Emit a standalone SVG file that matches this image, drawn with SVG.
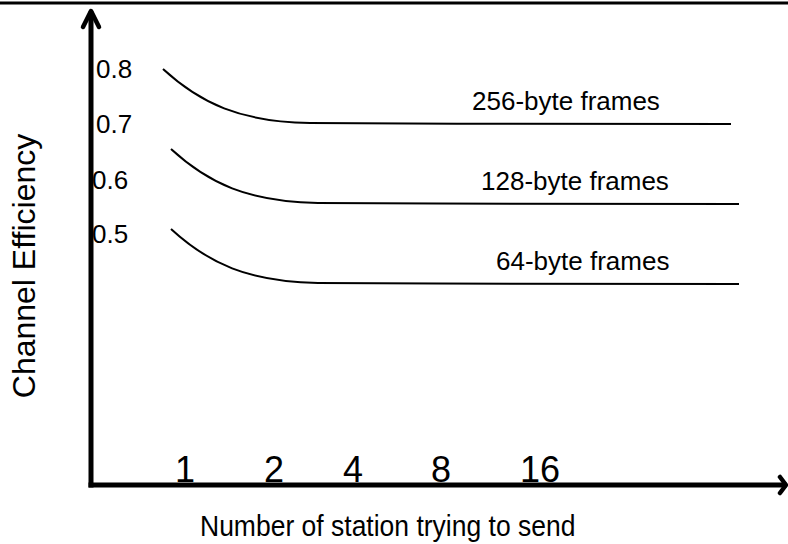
<svg xmlns="http://www.w3.org/2000/svg" width="788" height="544" viewBox="0 0 788 544">
<style>
text{font-family:"Liberation Sans",Arial,sans-serif;fill:#000}
.axis{stroke:#000;stroke-width:5;fill:none;stroke-linecap:square}
.head{stroke:#000;stroke-width:4.5;fill:none;stroke-linecap:round;stroke-linejoin:round}
.curve{stroke:#000;stroke-width:2;fill:none}
.lbl{font-size:26px}
.tick{font-size:26px}
.num{font-size:36px}
</style>
<rect width="788" height="544" fill="#fff"/>
<line x1="0" y1="3" x2="788" y2="3" stroke="#000" stroke-width="3"/>
<g id="axes">
<line class="axis" x1="91" y1="14" x2="91" y2="485"/>
<line class="axis" x1="91" y1="485" x2="784" y2="485"/>
<polyline class="head" points="83,27 91,11 99,27"/>
<polyline class="head" points="780,477 786,485 780,493"/>
</g>
<g id="connectors">
<path id="c256" class="curve" d="M163,69 C200,103 240,122 310,123 C450,124 600,124 731,124"/>
<path id="c128" class="curve" d="M171,149 C208,183 248,202 318,203 C460,204 610,204 739,204"/>
<path id="c64" class="curve" d="M171,229 C208,263 248,282 318,283 C460,284 610,284 739,284"/>
</g>
<g id="labels">
<text class="lbl" x="472" y="110">256-byte frames</text>
<text class="lbl" x="481" y="190">128-byte frames</text>
<text class="lbl" x="496" y="270">64-byte frames</text>
</g>
<g id="yticks">
<text class="tick" x="96" y="78">0.8</text>
<text class="tick" x="96" y="133">0.7</text>
<text class="tick" x="92" y="189">0.6</text>
<text class="tick" x="92" y="243">0.5</text>
</g>
<g id="xticks">
<text class="num" x="175" y="482">1</text>
<text class="num" x="264" y="482">2</text>
<text class="num" x="343" y="482">4</text>
<text class="num" x="431" y="482">8</text>
<text class="num" x="520" y="482">16</text>
</g>
<text id="xlabel" transform="translate(200,536) scale(1,1.12)" x="0" y="0" font-size="26.5">Number of station trying to send</text>
<text id="ylabel" transform="translate(35,266) rotate(-90)" text-anchor="middle" font-size="32">Channel Efficiency</text>
</svg>
